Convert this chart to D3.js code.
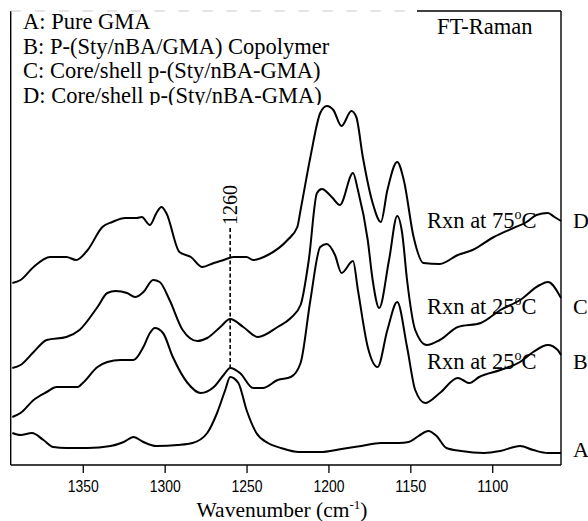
<!DOCTYPE html>
<html lang="en">
<head>
  <meta charset="UTF-8">
  <title>FT-Raman spectra</title>
  <script src="https://d3js.org/d3.v7.min.js"></script>
  <style>
    body { margin: 0; background: #fff; }
    svg { display: block; background: #fff; }
    .serif { font-family: "Liberation Serif", "Times New Roman", serif; fill: #000; }
    .axis text {
      font-family: "Liberation Sans", Arial, sans-serif;
      font-size: 17px;
      fill: #000;
    }
    .axis line { stroke: #000; stroke-width: 1.3; }
    .spectrum { fill: none; stroke: #000; stroke-width: 2; stroke-linejoin: round; }
  </style>
</head>
<body>
<svg width="588" height="521"></svg>
<script>
  const width = 588;
  const height = 521;
  const frame = { left: 10.7, right: 561, top: 11, bottom: 465 };

  // Wavenumber ticks
  const tickValues = [1350, 1300, 1250, 1200, 1150, 1100];

  // A: Pure GMA
  const waveA = [1393, 1388, 1381, 1374, 1368, 1360, 1347, 1333, 1325, 1319, 1313, 1305, 1292, 1283, 1274, 1268, 1263, 1260, 1255, 1250, 1244, 1237, 1229, 1218, 1205, 1192, 1180, 1168, 1157, 1151, 1145, 1139, 1134, 1128, 1119, 1105, 1095, 1083, 1075, 1066, 1058];
  const specA = [32, 30, 32, 25, 18, 17, 17, 19, 23, 28, 23, 19, 20, 22, 32, 52, 75, 88, 82, 55, 32, 22, 17, 13, 13, 16, 19, 22, 22, 23, 29, 34, 29, 17, 14, 12, 14, 19, 15, 12, 12];

  // B: copolymer, rxn at 25 C
  const waveB = [1393, 1388, 1380, 1372, 1366, 1353, 1350, 1341, 1335, 1327, 1319, 1313, 1309, 1306, 1301, 1295, 1286, 1278, 1270, 1264, 1260, 1254, 1246, 1240, 1231, 1223, 1217, 1211, 1205, 1201, 1196, 1192, 1185, 1182, 1176, 1170, 1164, 1158, 1152, 1147, 1141, 1132, 1121, 1118, 1114, 1108, 1095, 1083, 1075, 1066, 1060, 1058];
  const specB = [48, 52, 65, 73, 78, 78, 82, 98, 103, 105, 105, 118, 132, 137, 132, 108, 82, 72, 78, 90, 97, 92, 77, 77, 85, 88, 102, 165, 218, 221, 210, 192, 204, 175, 118, 98, 135, 163, 118, 75, 62, 72, 87, 85, 82, 88, 95, 103, 113, 120, 115, 110];

  // C: core/shell, rxn at 25 C
  const waveC = [1393, 1388, 1380, 1372, 1360, 1352, 1341, 1335, 1330, 1323, 1318, 1313, 1307, 1303, 1297, 1289, 1280, 1274, 1266, 1260, 1252, 1243, 1231, 1223, 1217, 1212, 1207, 1204, 1198, 1193, 1185, 1182, 1176, 1173, 1169, 1163, 1158, 1155, 1152, 1147, 1140, 1132, 1121, 1107, 1095, 1083, 1071, 1066, 1058];
  const specC = [97, 100, 113, 125, 128, 135, 158, 172, 174, 172, 168, 173, 185, 183, 165, 135, 124, 127, 138, 146, 138, 128, 138, 147, 160, 205, 272, 276, 268, 260, 292, 275, 225, 185, 157, 205, 249, 232, 185, 135, 120, 125, 138, 142, 155, 165, 180, 183, 167];

  // D: core/shell, rxn at 75 C
  const waveD = [1393, 1388, 1380, 1370, 1360, 1354, 1347, 1338, 1332, 1324, 1317, 1314, 1309, 1305, 1302, 1299, 1291, 1284, 1277, 1270, 1264, 1258, 1250, 1246, 1237, 1225, 1219, 1217, 1211, 1205, 1201, 1197, 1192, 1186, 1183, 1179, 1173, 1168, 1164, 1158, 1154, 1148, 1142, 1132, 1121, 1112, 1099, 1087, 1079, 1073, 1066, 1062, 1058];
  const specD = [182, 185, 198, 208, 208, 205, 215, 238, 243, 247, 247, 248, 240, 252, 258, 252, 213, 208, 198, 202, 205, 208, 208, 205, 210, 225, 238, 255, 308, 352, 359, 355, 339, 354, 348, 308, 262, 243, 275, 303, 285, 228, 202, 201, 210, 215, 228, 237, 243, 250, 252, 248, 244];

  const rxnLabels = ["", "Rxn at 25", "Rxn at 25", "Rxn at 75"];
  const legendLines = [
    "A: Pure GMA",
    "B: P-(Sty/nBA/GMA) Copolymer",
    "C: Core/shell p-(Sty/nBA-GMA)",
    "D: Core/shell p-(Sty/nBA-GMA)"
  ];
  const markerWave = 1260;
  const markerTop = 237;

  const series = [
    { name: "A", wave: waveA, spec: specA, labelY: 15 },
    { name: "B", wave: waveB, spec: specB, labelY: 103 },
    { name: "C", wave: waveC, spec: specC, labelY: 158 },
    { name: "D", wave: waveD, spec: specD, labelY: 244 }
  ];

  const svg = d3.select("svg");

  const x = d3.scaleLinear()
    .domain([1394, 1058])
    .range([frame.left, frame.right]);

  const y = d3.scaleLinear()
    .domain([0, 454])
    .range([frame.bottom, frame.top]);

  // frame
  svg.append("line")
    .attr("x1", frame.left).attr("x2", frame.left)
    .attr("y1", frame.top).attr("y2", frame.bottom)
    .attr("stroke", "#000").attr("stroke-width", 1.4);
  svg.append("line")
    .attr("x1", frame.right).attr("x2", frame.right)
    .attr("y1", frame.top).attr("y2", frame.bottom)
    .attr("stroke", "#000").attr("stroke-width", 1.4);
  svg.append("line")
    .attr("x1", frame.left).attr("x2", frame.right)
    .attr("y1", frame.bottom).attr("y2", frame.bottom)
    .attr("stroke", "#000").attr("stroke-width", 1.4);
  // top edge: faint on the left, solid on the right
  svg.append("line")
    .attr("x1", frame.left).attr("x2", 417)
    .attr("y1", frame.top).attr("y2", frame.top)
    .attr("stroke", "#c8c8c8").attr("stroke-width", 1)
    .attr("stroke-dasharray", "10,14");
  svg.append("line")
    .attr("x1", 417).attr("x2", frame.right)
    .attr("y1", frame.top).attr("y2", frame.top)
    .attr("stroke", "#000").attr("stroke-width", 1.4);

  // x axis ticks
  const xAxis = svg.append("g")
    .attr("class", "axis")
    .attr("transform", `translate(0,${frame.bottom})`)
    .call(d3.axisBottom(x).tickValues(tickValues).tickSize(8).tickSizeOuter(0).tickFormat(d3.format("d")));
  xAxis.select(".domain").remove();
  xAxis.selectAll("text")
    .attr("dy", "0.71em")
    .attr("y", 15)
    .attr("textLength", 31)
    .attr("lengthAdjust", "spacingAndGlyphs");

  // axis title
  const title = svg.append("text")
    .attr("class", "serif")
    .attr("x", 282)
    .attr("y", 517)
    .attr("text-anchor", "middle")
    .style("font-size", "21.5px");
  title.append("tspan").text("Wavenumber (cm");
  title.append("tspan").attr("dy", -8).style("font-size", "13px").text("-1");
  title.append("tspan").attr("dy", 8).text(")");

  // spectra
  const line = d3.line()
    .x(d => x(d[0]))
    .y(d => y(d[1]))
    .curve(d3.curveMonotoneX);

  svg.selectAll(".spectrum")
    .data(series)
    .join("path")
    .attr("class", "spectrum")
    .attr("d", s => line(s.wave.map((w, i) => [w, s.spec[i]])));

  // 1260 marker
  const markerBottom = specB[waveB.indexOf(markerWave)];
  svg.append("line")
    .attr("x1", x(markerWave)).attr("x2", x(markerWave))
    .attr("y1", y(markerTop)).attr("y2", y(markerBottom))
    .attr("stroke", "#000")
    .attr("stroke-width", 1.6)
    .attr("stroke-dasharray", "4,2.5");
  svg.append("text")
    .attr("class", "serif")
    .attr("transform", `translate(${x(markerWave) + 7},${y(markerTop) - 3}) rotate(-90)`)
    .style("font-size", "20px")
    .text(markerWave);

  // right-hand curve letters
  svg.selectAll(".curve-label")
    .data(series)
    .join("text")
    .attr("class", "serif curve-label")
    .attr("x", 573)
    .attr("y", s => y(s.labelY) + 7)
    .style("font-size", "22px")
    .text(s => s.name);

  // reaction labels
  series.forEach((s, i) => {
    if (!rxnLabels[i]) return;
    const t = svg.append("text")
      .attr("class", "serif")
      .attr("x", 427)
      .attr("y", y(s.labelY) + 7)
      .style("font-size", "22.5px");
    t.append("tspan").text(rxnLabels[i]);
    t.append("tspan").attr("dy", -9).style("font-size", "14px").text("o");
    t.append("tspan").attr("dy", 9).text("C");
  });

  // legend (bottom line clipped as in the original)
  svg.append("clipPath")
    .attr("id", "legend-clip")
    .append("rect")
    .attr("x", 0).attr("y", 0)
    .attr("width", width).attr("height", 105);

  svg.append("g")
    .attr("clip-path", "url(#legend-clip)")
    .selectAll("text")
    .data(legendLines)
    .join("text")
    .attr("class", "serif")
    .attr("x", 23)
    .attr("y", (d, i) => 29 + i * 24.7)
    .style("font-size", "22.5px")
    .text(d => d);

  svg.append("text")
    .attr("class", "serif")
    .attr("x", 437)
    .attr("y", 34)
    .style("font-size", "22.5px")
    .text("FT-Raman");
</script>
</body>
</html>
